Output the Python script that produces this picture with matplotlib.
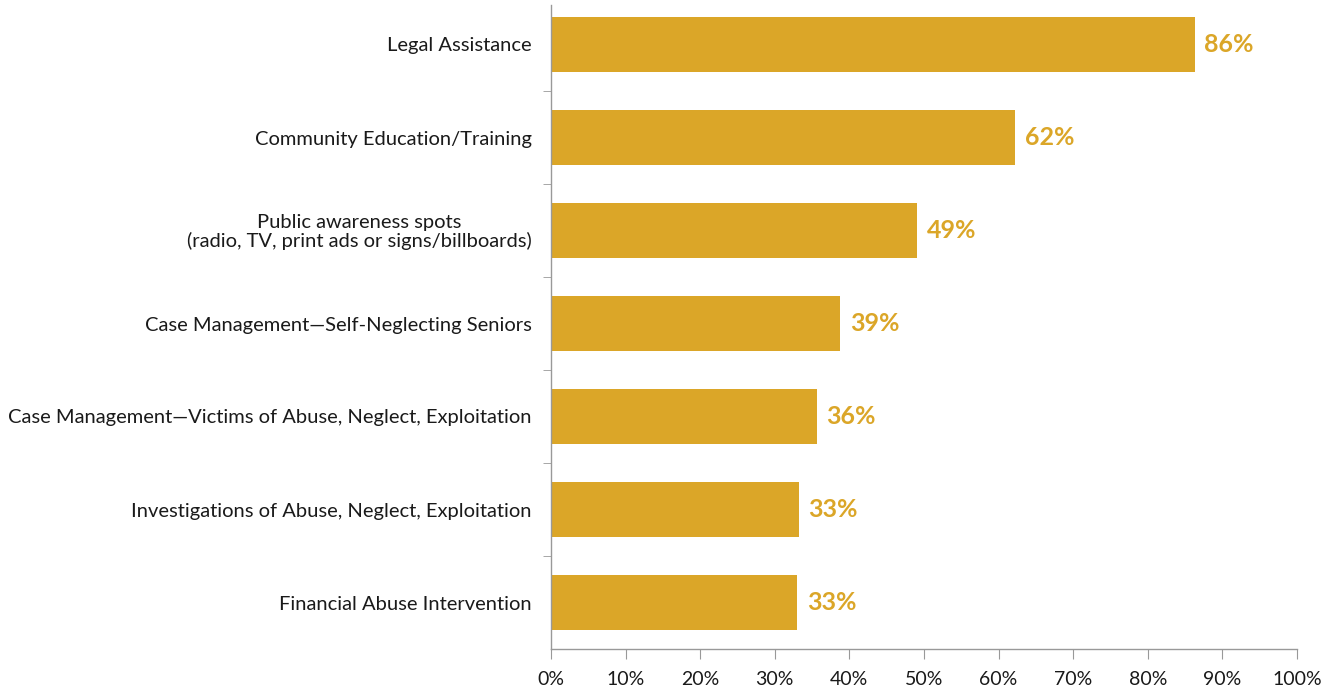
import matplotlib
matplotlib.use("Agg")
import matplotlib.pyplot as plt
from matplotlib.ticker import FixedLocator

categories = [
    "Legal Assistance",
    "Community Education/Training",
    "Public awareness spots\n(radio, TV, print ads or signs/billboards)",
    "Case Management\u2014Self-Neglecting Seniors",
    "Case Management\u2014Victims of Abuse, Neglect, Exploitation",
    "Investigations of Abuse, Neglect, Exploitation",
    "Financial Abuse Intervention",
]
values = [86.3, 62.2, 49.1, 38.8, 35.6, 33.2, 33.0]
value_labels = ["86%", "62%", "49%", "39%", "36%", "33%", "33%"]
xticks = list(range(0, 101, 10))
xtick_labels = [f"{t}%" for t in xticks]

gold = "#DBA628"
plt.rcParams['font.family'] = ['Lato', 'DejaVu Sans']

fig = plt.figure(figsize=(13.27, 6.89), dpi=100)
ax = fig.add_axes([551/1327, 40/689, 746/1327, 651/689])

n = len(categories)
ypos = list(range(n - 1, -1, -1))
ax.barh(ypos, values, height=0.6, color=gold)
for y, v, lab in zip(ypos, values, value_labels):
    ax.text(v + 1.3, y, lab, va="center", ha="left", color=gold,
            fontsize=18, fontweight="bold")

ax.set_xlim(0, 100)
ax.set_ylim(-0.5, n - 0.5)
ax.set_xticks(xticks)
ax.set_xticklabels(xtick_labels, fontsize=14, color="#1a1a1a")
ax.set_yticks(ypos)
ax.set_yticklabels(categories, fontsize=14.5, color="#1a1a1a", multialignment="center",
                   linespacing=1.05)
ax.yaxis.set_minor_locator(FixedLocator([i + 0.5 for i in range(n - 1)]))
ax.tick_params(axis="y", which="major", length=0, pad=14)
ax.tick_params(axis="y", which="minor", length=6, color="#999999", direction="out")
ax.tick_params(axis="x", which="major", length=7, color="#999999", pad=9)

for s in ["top", "right"]:
    ax.spines[s].set_visible(False)
for s in ["left", "bottom"]:
    ax.spines[s].set_color("#999999")
    ax.spines[s].set_linewidth(1.0)
ax.spines["left"].set_bounds(-0.5, n - 0.58)

fig.savefig("out.png", dpi=100)
